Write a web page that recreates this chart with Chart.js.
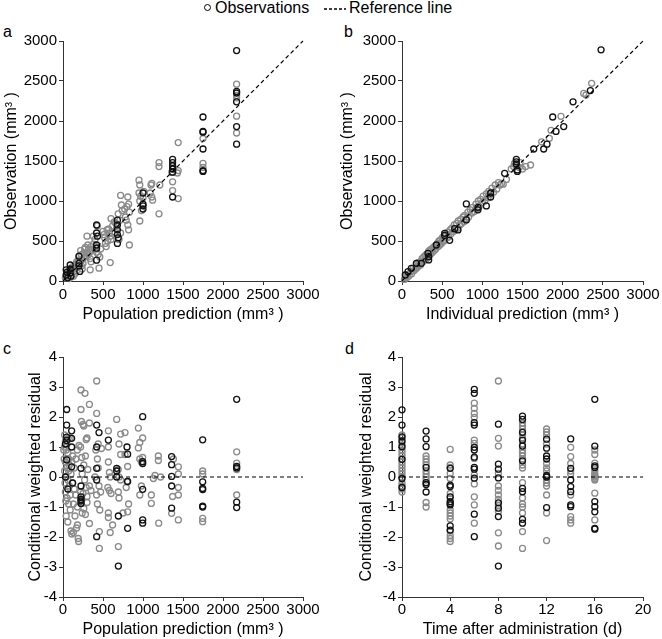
<!DOCTYPE html>
<html>
<head>
<meta charset="utf-8">
<script src="https://cdn.jsdelivr.net/npm/chart.js@4.4.1/dist/chart.umd.min.js"></script>
<style>
  body { margin: 0; background: #fff; font-family: "Liberation Sans", Arial, sans-serif; }
  #wrap { position: relative; width: 662px; height: 639px; overflow: hidden; }
  canvas { position: absolute; }
  .lbl { position: absolute; font-size: 16px; line-height: 16px; color: #000; }
</style>
</head>
<body>
<div id="wrap">
  <div class="lbl" style="left:204px;top:4px;width:5px;height:5px;border:1.3px solid #000;border-radius:50%"></div>
  <div class="lbl" style="left:215px;top:0px">Observations</div>
  <svg class="lbl" style="left:323px;top:4px" width="24" height="10"><line x1="1" y1="5" x2="23" y2="5" stroke="#000" stroke-width="1.3" stroke-dasharray="3,2"/></svg>
  <div class="lbl" style="left:349px;top:0px">Reference line</div>
  <div class="lbl" style="left:3px;top:24px">a</div>
  <div class="lbl" style="left:344px;top:24px">b</div>
  <div class="lbl" style="left:3px;top:341px">c</div>
  <div class="lbl" style="left:345px;top:341px">d</div>
  <canvas id="ca" width="331" height="310" style="left:0;top:20px"></canvas>
  <canvas id="cb" width="331" height="310" style="left:331px;top:20px"></canvas>
  <canvas id="cc" width="331" height="309" style="left:0;top:330px"></canvas>
  <canvas id="cd" width="331" height="309" style="left:331px;top:330px"></canvas>
</div>
<script>
// panel a: observation vs population prediction (mm3)
let obsPopBlack = [[40,140],[40,75],[50,110],[60,40],[90,200],[90,150],[90,100],[100,60],[200,310],[200,220],[200,190],[210,120],
  [420,700],[420,600],[420,450],[420,410],[420,260],[430,560],[680,760],[680,700],[680,640],[680,580],[680,470],[690,540],
  [1000,1100],[1000,960],[1000,940],[1000,900],[1370,1520],[1370,1480],[1370,1440],[1370,1400],[1370,1360],[1370,1050],
  [1750,2050],[1750,1870],[1750,1860],[1750,1650],[1750,1380],[1750,1370],
  [2170,2880],[2170,2370],[2170,2350],[2170,2240],[2170,1930],[2170,1710]];
let obsPopGray = [[30,40],[40,60],[50,90],[60,50],[70,110],[80,30],[90,140],[100,70],[120,180],[130,150],[140,120],[150,90],
  [160,210],[170,240],[180,170],[200,300],[210,250],[220,380],[230,330],[240,270],[250,220],[260,350],[240,150],
  [130,60],[150,200],[170,130],[190,260],[230,190],[260,290],[270,400],[300,350],[320,330],[350,430],[360,380],[380,560],
  [280,420],[290,310],[300,560],[310,450],[320,400],[330,360],[340,280],[350,240],[340,140],
  [380,460],[400,520],[410,430],[420,360],[430,690],[440,330],[450,160],[460,300],[470,400],
  [500,620],[510,580],[520,540],[530,470],[540,430],[570,650],[580,600],[590,560],[600,780],[600,520],[590,230],
  [550,640],[560,500],[620,690],[640,740],[650,610],
  [660,720],[670,660],[690,840],[700,520],[710,760],[720,1070],[720,600],[730,950],[740,880],
  [770,900],[780,800],[790,760],[800,930],[810,1050],[810,700],[820,960],[820,640],[830,860],[830,450],
  [950,1100],[950,1260],[960,1200],[960,1000],[970,1060],[980,880],[960,750],[1000,1040],[1010,1120],
  [1100,1200],[1110,1220],[1110,1050],[1120,1010],[1090,1100],[1200,1480],[1200,1430],[1200,840],[1210,1200],
  [1370,1240],[1370,1130],[1360,1360],[1380,1410],[1440,1730],[1440,1380],[1440,1030],[1430,1350],
  [1750,1780],[1750,1470],[1750,1420],[2170,2460],[2170,2320],[2170,2060],[2170,1850],[2170,2290]];

// panel b: observation vs individual prediction (mm3)
let obsIndBlack = [[41,75],[75,117],[116,158],[179,221],[241,221],[324,346],[332,304],[332,263],[428,450],[531,596],[531,570],
  [593,508],[656,654],[697,638],[801,763],[801,963],[946,921],[946,890],[1050,938],[1104,1050],[1104,1100],[1278,1346],
  [1423,1521],[1423,1490],[1423,1462],[1436,1388],[1436,1370],[1640,1650],[1764,1650],[1805,1710],[1876,2050],
  [1917,1870],[2013,1930],[2129,2240],[2345,2380],[2478,2890]];
let obsIndGray = [[30,20],[50,40],[60,80],[70,50],[90,70],[110,120],[120,90],[140,160],[150,130],[170,150],[180,210],[190,170],
  [200,230],[210,190],[220,240],[230,200],[250,280],[260,240],[270,300],[280,260],[290,320],[300,270],[310,340],[320,300],
  [330,370],[340,320],[350,390],[360,340],[370,400],[380,360],[390,420],[400,380],[410,440],[420,400],[440,470],[450,430],
  [460,500],[470,450],[480,510],[490,470],[500,540],[510,490],[520,560],[530,510],[550,590],[560,540],[570,610],[580,550],
  [600,640],[610,590],[620,660],[640,620],[650,700],[660,640],[680,720],[690,660],[700,750],[720,700],[730,770],[740,720],
  [760,800],[770,740],[780,820],[800,780],[820,860],[830,800],[850,890],[870,850],[880,920],[900,870],[920,960],[930,900],
  [950,1000],[960,930],[980,1020],[1000,980],[1010,1060],[1030,1000],[1050,1090],[1070,1040],[1080,1120],[1100,1080],
  [1120,1160],[1140,1110],[1160,1200],[1180,1150],[1200,1230],[1220,1200],[1240,1220],[1260,1210],[1300,1270],[1360,1400],
  [1390,1430],[1400,1470],[1420,1440],[1460,1420],[1500,1400],[1540,1430],[1600,1450],[1470,1480],
  [1739,1740],[1834,1783],[1855,1883],[1979,2058],[2262,2345],[2290,2325],[2361,2471]];

// panel c: CWRES vs population prediction (mm3)
let cwresPopBlack = [[46,2.25],[46,1.73],[46,1.33],[46,1.22],[46,0.57],[30,1.1],[30,0.0],[60,-0.4],[108,1.54],[108,1.29],[108,1.0],
  [108,0.34],[120,-0.2],[225,0.29],[225,-0.3],[225,-0.66],[225,-0.75],[225,-0.8],[225,-0.88],[421,1.73],[421,1.0],[421,0.29],
  [421,-0.1],[421,-1.99],[450,1.48],[567,1.23],[671,0.29],[671,0.2],[671,0.0],[692,-1.3],[692,-2.97],[800,1.0],[808,0.76],
  [808,-1.71],[808,-0.15],[996,2.01],[996,0.51],[996,0.45],[996,-0.41],[996,-1.43],[996,-1.54],[1358,0.68],[1358,0.41],
  [1358,0.02],[1358,-0.3],[1358,-1.04],[1746,1.24],[1746,-0.16],[1746,-0.38],[1746,-0.42],[1746,-0.97],[1746,-1.0],
  [2171,2.59],[2171,0.35],[2171,0.3],[2171,-0.84],[2171,-1.02]];
let cwresPopGray = [[20,1.4],[30,1.2],[40,0.9],[50,1.1],[60,0.8],[70,0.6],[30,0.5],[50,0.3],[20,0.2],[40,0.0],[60,-0.1],[80,-0.3],
  [30,-0.5],[50,-0.7],[70,-0.9],[90,-1.1],[40,-1.3],[60,-1.5],[100,-1.8],[110,-1.9],[130,-1.85],[80,0.4],[100,0.1],[120,-0.2],
  [10,0.9],[15,0.6],[25,-0.2],[35,-0.8],[70,0.2],[90,-0.6],[20,1.0],[65,1.3],[110,0.5],[130,-0.9],
  [140,-0.4],[160,-0.6],[180,-1.0],[150,-1.3],[170,-1.7],[190,-2.05],[195,-2.15],[180,-1.6],[140,0.3],[160,0.6],[180,0.9],
  [200,1.05],[120,0.7],[90,1.3],[225,2.9],[275,2.79],[225,2.25],[230,1.85],[250,1.75],[260,1.7],[220,1.0],[235,0.65],[260,0.4],
  [280,0.7],[290,1.25],[300,1.3],[240,0.1],[270,-0.1],[290,-0.35],[220,-0.5],[250,-0.55],[300,-0.65],[260,-1.05],[240,-1.2],
  [280,-1.25],[330,-1.55],[300,-0.85],[330,2.42],[330,1.8],[310,0.25],[330,-0.3],[350,-0.45],[421,3.2],[421,2.12],[440,1.1],
  [410,0.9],[430,0.6],[440,0.3],[400,0.0],[450,-0.3],[420,-0.6],[430,-0.9],[460,-1.1],[454,-1.82],[454,-2.38],[470,-0.5],
  [480,0.95],[567,1.54],[567,1.0],[567,0.5],[580,0.15],[590,0.0],[560,-0.35],[580,-0.45],[600,-0.55],[567,-1.2],[567,-1.35],
  [590,-1.85],[620,-1.6],[671,1.92],[700,1.1],[721,1.43],[721,0.75],[690,0.25],[700,0.0],[720,-0.1],[692,-0.5],[700,-0.7],
  [692,-2.32],[750,-1.2],[775,1.48],[775,0.75],[808,0.35],[800,-0.15],[790,-0.35],[808,-1.16],[820,-0.9],[942,1.63],[942,0.97],
  [960,1.15],[960,0.6],[980,0.5],[996,1.3],[996,0.65],[960,-0.6],[980,-0.3],[1104,-0.6],[1104,-0.88],[1130,-0.05],[1150,0.05],
  [1192,0.7],[1192,0.55],[1196,-1.54],[1220,0.0],[1358,-1.21],[1370,-0.65],[1380,0.6],[1442,0.34],[1442,0.1],[1442,-0.35],
  [1442,-0.6],[1442,-1.43],[1746,0.2],[1746,0.1],[1746,-1.38],[1746,-1.49],[2171,0.84],[2171,0.46],[2171,-0.6],[2171,0.25]];

// panel d: CWRES vs time after administration (d)
let days = [0, 2, 4, 6, 8, 10, 12, 14, 16];
let cwresTimeBlack = [
  [2.24,1.73,1.34,1.2,1.01,0.59,-0.05,-0.35],
  [1.53,1.27,1.01,0.32,-0.19,-0.25,-0.5],
  [0.29,-0.27,-0.32,-0.66,-0.82,-0.88,-0.93,-1.63,-1.77],
  [2.92,2.79,1.81,1.73,0.99,0.9,0.66,0.32,0.26,-0.04,-1.24,-1.99],
  [1.76,0.43,0.26,-0.03,-0.86,-1.04,-1.32,-2.97],
  [2.03,1.92,1.49,1.23,1.03,0.54,-0.38,-0.49,-1.41,-1.54],
  [1.26,0.96,0.7,0.6,0.05,0.0,-1.02],
  [1.27,0.29,-0.1,-0.32,-0.49,-0.93,-0.99],
  [2.59,1.03,0.37,0.32,-0.82,-0.99,-1.16,-1.71,-1.74]];
let cwresTimeGray = [
  [1.4,1.3,1.15,1.05,0.9,0.8,0.7,0.6,0.5,0.4,0.3,0.2,0.1,0.0,-0.2,-0.3,-0.4,-0.5],
  [0.7,0.6,0.5,0.4,0.2,0.1,0.0,-0.1,-0.85,-1.0],
  [0.92,0.4,0.32,0.12,-0.05,-0.55,-0.7,-1.1,-1.2,-1.3,-1.4,-1.8,-1.95,-2.05,-2.15],
  [2.46,2.29,2.12,1.99,1.23,1.12,0.62,0.07,-0.23,-0.66,-0.93,-1.54],
  [3.2,1.29,1.03,0.12,-0.3,-0.45,-0.6,-0.75,-0.95,-1.15,-1.86,-2.3],
  [1.8,1.7,1.6,1.4,1.3,1.1,0.9,0.8,0.7,0.6,0.4,0.3,-0.19,-0.7,-0.9,-1.0,-1.2,-1.82,-2.38],
  [1.6,1.5,1.4,1.1,0.45,0.3,0.2,-0.1,-0.2,-0.3,-0.6,-1.2,-2.12],
  [0.99,0.68,0.45,0.2,0.1,-0.6,-1.32,-1.43,-1.54],
  [0.9,0.75,0.46,0.2,0.1,0.05,0.0,-0.05,-0.1,-0.54,-1.43]];

let identityLine = [[0, 0], [3000, 3000]];
let zeroLinePop = [[0, 0], [3000, 0]];
let zeroLineTime = [[0, 0], [20, 0]];

const FONT = "'Liberation Sans', Arial, sans-serif";
const BLACK = '#111';
const GRAY = '#8a8a8a';

function pts(pairs) {
  return pairs.map(p => ({ x: p[0], y: p[1] }));
}
function byDay(cols) {
  let out = [];
  cols.forEach((vals, i) => vals.forEach(v => out.push({ x: days[i], y: v })));
  return out;
}

function scatter(data, color) {
  return { type: 'scatter', data: data, pointRadius: 3, pointHoverRadius: 3, pointBorderWidth: 1.3,
    pointBorderColor: color, pointBackgroundColor: 'rgba(0,0,0,0)', showLine: false, clip: false };
}
function refLine(data) {
  return { type: 'line', data: data, borderColor: '#000', borderWidth: 1.2, borderDash: [4, 3],
    pointRadius: 0, fill: false, clip: false };
}

function axis(min, max, step, title, opts) {
  return {
    type: 'linear', min: min, max: max,
    ticks: { stepSize: step, color: '#000', padding: opts.tickPad, font: { family: FONT, size: 15 },
      callback: v => String(v) },
    grid: { drawOnChartArea: false, drawTicks: true, tickLength: 4, color: '#333' },
    border: { display: true, color: '#333', width: 1 },
    title: { display: true, text: title, color: '#000', font: { family: FONT, size: 16 }, padding: opts.titlePad },
    afterFit: opts.fit
  };
}

function makeChart(id, datasets, xs, ys, pad) {
  return new Chart(document.getElementById(id), {
    data: { datasets: datasets },
    options: {
      responsive: false, animation: false, maintainAspectRatio: false,
      layout: { padding: pad },
      plugins: { legend: { display: false }, tooltip: { enabled: false } },
      scales: { x: xs, y: ys }
    }
  });
}

// top row
let xTop = (title) => axis(0, 3000, 500, title, { tickPad: 1, titlePad: { top: 0, bottom: 6 }, fit: s => { s.height = 49; } });
makeChart('ca', [refLine(pts(identityLine)), scatter(pts(obsPopBlack), BLACK), scatter(pts(obsPopGray), GRAY)],
  xTop('Population prediction (mm³ )'),
  axis(0, 3000, 500, 'Observation (mm³ )', { tickPad: 2, titlePad: { top: 2, bottom: 0 }, fit: s => { s.width = 63; } }),
  { top: 21, right: 28, left: 0, bottom: 0 });

makeChart('cb', [refLine(pts(identityLine)), scatter(pts(obsIndBlack), BLACK), scatter(pts(obsIndGray), GRAY)],
  xTop('Individual prediction (mm³ )'),
  axis(0, 3000, 500, 'Observation (mm³ )', { tickPad: 2, titlePad: { top: 7, bottom: 0 }, fit: s => { s.width = 71; } }),
  { top: 21, right: 19, left: 0, bottom: 0 });

// bottom row
makeChart('cc', [refLine(pts(zeroLinePop)), scatter(pts(cwresPopBlack), BLACK), scatter(pts(cwresPopGray), GRAY)],
  axis(0, 3000, 500, 'Population prediction (mm³ )', { tickPad: 0, titlePad: { top: 0, bottom: 0 }, fit: s => { s.height = 42; } }),
  axis(-4, 4, 1, 'Conditional weighted residual', { tickPad: 2, titlePad: { top: 26, bottom: 0 }, fit: s => { s.width = 63; } }),
  { top: 27, right: 28, left: 0, bottom: 0 });

makeChart('cd', [refLine(pts(zeroLineTime)), scatter(byDay(cwresTimeBlack), BLACK), scatter(byDay(cwresTimeGray), GRAY)],
  axis(0, 20, 4, 'Time after administration (d)', { tickPad: 0, titlePad: { top: 0, bottom: 0 }, fit: s => { s.height = 42; } }),
  axis(-4, 4, 1, 'Conditional weighted residual', { tickPad: 2, titlePad: { top: 26, bottom: 0 }, fit: s => { s.width = 71; } }),
  { top: 27, right: 19, left: 0, bottom: 0 });
</script>
</body>
</html>
